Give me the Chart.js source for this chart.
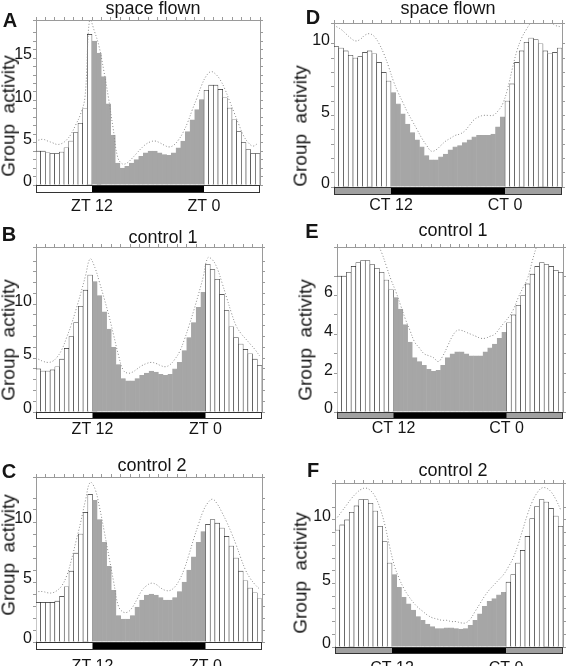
<!DOCTYPE html>
<html>
<head>
<meta charset="utf-8">
<script src="https://cdn.jsdelivr.net/npm/chart.js@4.4.1/dist/chart.umd.min.js"></script>
<style>
  body { margin: 0; background: #fff; }
  #fig { position: relative; width: 579px; height: 666px; overflow: hidden;
         font-family: "Liberation Sans", Arial, sans-serif; color: #151515; }
  #fig canvas { position: absolute; }
  .lbl { position: absolute; white-space: pre; line-height: 1; transform: translate(-50%, -50%); }
  .letter { font-weight: bold; font-size: 20px; }
  .title { font-size: 18px; }
  .ytitle { font-size: 19px; transform: translate(-50%, -50%) rotate(-90deg); }
</style>
</head>
<body>
<div id="fig"></div>
<script>
// profiles run from ZT/CT 6 to 30 in 30 min bins
const binStart = 6;
const binWidth = 0.5;
const darkStart = 12;
const darkEnd = 24;
const xTickHours = [12, 24];
const ldTickLabels = ["ZT 12", "ZT 0"];
const ddTickLabels = ["CT 12", "CT 0"];

// group activity (bars) and mean + sem (dotted), LD panels
const activityA = [4.0, 4.0, 3.8, 3.7, 3.7, 3.9, 4.4, 5.2, 6.2, 7.3, 9.0, 17.8,
  17.0, 15.6, 12.8, 9.6, 5.9, 2.6, 2.0, 2.2, 2.6, 3.0, 3.4, 3.8, 4.0, 4.0, 3.8, 3.6, 3.5, 3.8, 4.4, 5.2, 6.3, 7.7, 8.9, 10.1,
  11.2, 11.8, 11.8, 11.3, 10.3, 9.1, 7.7, 6.3, 5.0, 4.2, 3.7, 3.7];
const upperA = [5.3, 5.4, 5.2, 5.0, 4.8, 4.9, 5.3, 6.0, 7.1, 8.3, 10.4, 19.6,
  18.2, 16.4, 13.6, 10.4, 6.8, 3.3, 2.5, 2.6, 3.1, 3.7, 4.3, 4.8, 5.1, 5.2, 5.0, 4.7, 4.5, 4.7, 5.3, 6.2, 7.4, 8.9, 10.3, 11.8,
  12.9, 13.4, 13.1, 12.4, 11.3, 9.9, 8.5, 7.1, 5.8, 5.0, 4.6, 4.9];

const activityB = [4.0, 3.8, 3.8, 3.9, 4.2, 4.9, 5.9, 7.0, 8.3, 9.8, 11.3, 12.7,
  12.1, 10.8, 9.3, 7.7, 6.0, 4.4, 3.1, 2.9, 2.9, 3.1, 3.4, 3.6, 3.8, 3.7, 3.5, 3.4, 3.5, 4.0, 4.6, 5.7, 6.9, 8.3, 9.7, 11.1,
  13.7, 13.2, 12.3, 10.9, 9.4, 7.9, 6.9, 6.3, 5.8, 5.4, 4.9, 4.3];
const upperB = [4.9, 4.7, 4.6, 4.7, 5.1, 5.8, 6.9, 8.1, 9.5, 11.0, 12.6, 14.2,
  13.4, 12.0, 10.5, 8.9, 7.1, 5.3, 3.9, 3.6, 3.7, 4.0, 4.3, 4.5, 4.6, 4.5, 4.3, 4.2, 4.4, 4.9, 5.6, 6.7, 8.0, 9.4, 10.9, 12.5,
  14.3, 14.1, 13.3, 12.0, 10.6, 9.2, 8.0, 7.3, 6.8, 6.3, 5.8, 5.2];

const activityC = [3.3, 3.3, 3.3, 3.3, 3.4, 3.8, 4.6, 5.9, 7.4, 9.0, 10.8, 12.3,
  11.8, 10.2, 8.3, 6.3, 4.3, 2.2, 1.9, 1.9, 2.2, 2.9, 3.5, 3.9, 4.0, 3.9, 3.7, 3.5, 3.5, 3.7, 4.2, 5.0, 6.0, 7.1, 8.3, 9.2,
  9.8, 10.2, 9.9, 9.5, 8.8, 8.0, 7.0, 5.9, 5.1, 4.5, 4.1, 3.6];
const upperC = [4.2, 4.2, 4.1, 4.1, 4.3, 4.7, 5.5, 6.8, 8.4, 10.0, 11.8, 13.3,
  12.8, 11.2, 9.2, 7.1, 5.0, 3.0, 2.5, 2.5, 2.9, 3.6, 4.3, 4.7, 4.9, 4.8, 4.5, 4.3, 4.3, 4.6, 5.2, 6.1, 7.3, 8.6, 9.8, 10.9,
  11.6, 11.9, 11.5, 10.8, 10.0, 9.1, 8.1, 7.0, 6.0, 5.3, 4.8, 4.4];

// DD panels
const activityD = [9.8, 9.7, 9.5, 9.2, 9.0, 9.1, 9.4, 9.5, 9.3, 8.7, 8.0, 7.4,
  6.6, 5.8, 5.1, 4.4, 3.8, 3.3, 2.8, 2.2, 1.9, 1.9, 2.1, 2.3, 2.6, 2.8, 2.9, 3.1, 3.3, 3.5, 3.6, 3.6, 3.6, 3.7, 4.2, 4.9,
  6.0, 7.2, 8.7, 9.5, 10.1, 10.4, 10.3, 10.0, 9.5, 9.3, 9.4, 9.7];
const upperD = [11.2, 11.0, 10.7, 10.4, 10.2, 10.3, 10.6, 10.7, 10.5, 10.0, 9.3, 8.4,
  7.4, 6.6, 5.9, 5.2, 4.6, 4.0, 3.4, 2.9, 2.5, 2.6, 2.9, 3.2, 3.4, 3.6, 3.7, 3.9, 4.3, 4.7, 4.9, 5.0, 5.0, 5.0, 5.3, 5.8,
  6.8, 8.2, 9.5, 10.4, 11.0, 11.5, 11.8, 11.9, 11.8, 11.6, 11.3, 11.2];

const activityE = [7.0, 7.0, 7.2, 7.5, 7.7, 7.8, 7.8, 7.6, 7.4, 7.2, 6.8, 6.3,
  5.9, 5.3, 4.5, 3.6, 2.8, 2.6, 2.4, 2.2, 2.1, 2.15, 2.4, 2.8, 3.0, 3.1, 3.1, 3.0, 2.9, 2.9, 2.9, 3.1, 3.3, 3.5, 3.8, 4.1,
  4.6, 5.0, 5.5, 6.0, 6.6, 7.1, 7.5, 7.7, 7.6, 7.5, 7.3, 7.2];
const upperE = [9.2, 9.3, 9.5, 9.6, 9.7, 9.6, 9.4, 9.1, 8.7, 8.2, 7.5, 6.8,
  6.2, 5.5, 4.8, 4.2, 3.6, 3.3, 3.0, 2.9, 2.8, 2.6, 2.9, 3.4, 3.9, 4.2, 4.2, 4.1, 4.0, 3.9, 3.8, 3.8, 3.9, 4.0, 4.3, 4.6,
  4.9, 5.3, 5.9, 6.4, 6.9, 7.8, 8.6, 9.2, 9.5, 9.5, 9.4, 9.3];

const activityF = [9.2, 9.6, 10.0, 10.6, 11.1, 11.6, 11.6, 11.3, 10.7, 9.5, 8.3, 6.6,
  5.7, 4.7, 3.9, 3.4, 2.9, 2.4, 2.1, 1.8, 1.6, 1.45, 1.45, 1.5, 1.5, 1.45, 1.4, 1.45, 1.7, 2.1, 2.6, 3.2, 3.6, 3.8, 4.1, 4.3,
  5.1, 5.7, 6.6, 7.6, 8.7, 10.1, 11.05, 11.6, 11.4, 10.9, 10.3, 9.5];
const upperF = [10.2, 10.7, 11.2, 11.7, 12.1, 12.4, 12.5, 12.3, 11.8, 10.9, 9.6, 7.9,
  6.4, 5.4, 4.6, 4.0, 3.5, 3.1, 2.8, 2.5, 2.3, 2.2, 2.1, 2.1, 2.0, 2.0, 1.9, 1.9, 2.2, 2.8, 3.4, 4.0, 4.5, 4.9, 5.3, 5.7,
  6.3, 7.0, 8.0, 9.2, 10.4, 11.4, 12.1, 12.5, 12.5, 12.2, 11.6, 10.8];

// layout of the six panels (frame = chart area l, t, r, b in page px)
const panels = [
  { letter: "A", title: "space flown", bars: activityA, upper: upperA, dd: false, yMax: 19.5, major: 5,
    frame: [36, 20, 260, 185], letterAt: [10, 20], titleAt: [153, 8], yTitleAt: [8, 116], labelPad: 12, ldH: 8 },
  { letter: "B", title: "control 1", bars: activityB, upper: upperB, dd: false, yMax: 15.3, major: 5,
    frame: [36, 247, 262, 412], letterAt: [9, 234], titleAt: [163, 237], yTitleAt: [8, 340], labelPad: 8, ldH: 7 },
  { letter: "C", title: "control 2", bars: activityC, upper: upperC, dd: false, yMax: 13.75, major: 5,
    frame: [36, 477, 262, 642], letterAt: [9, 471], titleAt: [152, 465], yTitleAt: [8, 555], labelPad: 15, ldH: 8 },
  { letter: "D", title: "space flown", bars: activityD, upper: upperD, dd: true, yMax: 11.45, major: 5,
    frame: [334, 23, 562, 187], letterAt: [313, 17], titleAt: [448, 8], yTitleAt: [300, 126], labelPad: 9, ldH: 8 },
  { letter: "E", title: "control 1", bars: activityE, upper: upperE, dd: true, yMax: 8.5, major: 2,
    frame: [337, 247, 563, 412], letterAt: [312, 231], titleAt: [453, 230], yTitleAt: [305, 340], labelPad: 7, ldH: 7 },
  { letter: "F", title: "control 2", bars: activityF, upper: upperF, dd: true, yMax: 12.9, major: 5,
    frame: [335, 483, 563, 647], letterAt: [313, 470], titleAt: [453, 470], yTitleAt: [300, 573], labelPad: 12, ldH: 7 },
];

const yAxisW = 34, sideW = 8, topH = 8, bottomH = 34;
const frameGrey = "#9a9a9a";
const barGrey = "#a6a6a6";
const fig = document.getElementById("fig");

Chart.defaults.font.family = '"Liberation Sans", Arial, sans-serif';
Chart.defaults.color = "#151515";

// light / dark bar under the x axis
const ldBar = {
  id: "ldBar",
  afterDraw(chart, args, opts) {
    const { ctx, chartArea, scales } = chart;
    const x = scales.x;
    const top = chartArea.bottom;
    const h = opts.height;
    const x0 = x.getPixelForValue(binStart);
    const x1 = x.getPixelForValue(binStart + binWidth * 48);
    const d0 = x.getPixelForValue(darkStart);
    const d1 = x.getPixelForValue(darkEnd);
    ctx.save();
    ctx.fillStyle = opts.dd ? "#a0a0a0" : "#fff";
    ctx.fillRect(x0, top, x1 - x0, h);
    ctx.fillStyle = "#000";
    ctx.fillRect(d0, top, d1 - d0, h);
    ctx.strokeStyle = "#333";
    ctx.lineWidth = 1;
    ctx.strokeRect(x0 + 0.5, top + 0.5, x1 - x0 - 1, h - 1);
    ctx.restore();
  },
};

function addText(cls, text, pos) {
  const d = document.createElement("div");
  d.className = "lbl " + cls;
  d.textContent = text;
  d.style.left = pos[0] + "px";
  d.style.top = pos[1] + "px";
  fig.appendChild(d);
}

function fixSize(prop, size) {
  return (s) => {
    s[prop] = size;
    s.paddingTop = 0; s.paddingBottom = 0; s.paddingLeft = 0; s.paddingRight = 0;
  };
}

function buildChart(p) {
  const [l, t, r, b] = p.frame;
  const w = r - l + yAxisW + sideW;
  const h = b - t + topH + bottomH;
  const canvas = document.createElement("canvas");
  canvas.width = w;
  canvas.height = h;
  canvas.style.left = l - yAxisW + "px";
  canvas.style.top = t - topH + "px";
  fig.appendChild(canvas);

  const centers = p.bars.map((v, i) => binStart + binWidth * (i + 0.5));
  const dark = centers.map((c) => c > darkStart && c < darkEnd);
  const xLabels = p.dd ? ddTickLabels : ldTickLabels;
  const yTicks = {
    min: 0, max: p.yMax,
    grid: { drawOnChartArea: false, tickLength: 3, color: frameGrey },
    border: { color: frameGrey },
  };

  new Chart(canvas, {
    data: {
      datasets: [
        {
          type: "line", order: 0,
          data: p.upper.map((v, i) => ({ x: centers[i], y: v })),
          borderColor: "#8a8a8a", borderWidth: 1, borderDash: [1, 2],
          pointRadius: 0, tension: 0.4,
        },
        {
          type: "bar", order: 1,
          data: p.bars.map((v, i) => ({ x: centers[i], y: v })),
          backgroundColor: dark.map((d) => (d ? barGrey : "#fff")),
          borderColor: dark.map((d) => (d ? barGrey : "#2a2a2a")),
          borderWidth: { top: 0.6, left: 0.6, right: 0.6, bottom: 0 },
          barPercentage: 1, categoryPercentage: 1,
        },
      ],
    },
    options: {
      responsive: false, animation: false, devicePixelRatio: 1,
      layout: { padding: 0 },
      plugins: { legend: { display: false }, tooltip: { enabled: false }, ldBar: { dd: p.dd, height: p.ldH } },
      scales: {
        x: {
          type: "linear", position: "bottom", min: binStart, max: darkEnd + 6, offset: false,
          afterBuildTicks: (s) => { s.ticks = xTickHours.map((v) => ({ value: v })); },
          ticks: { callback: (v, i) => xLabels[i], autoSkip: false, maxRotation: 0, padding: p.labelPad, font: { size: 16 } },
          grid: { display: false, drawTicks: false },
          border: { display: false },
          afterFit: fixSize("height", bottomH),
        },
        xTop: {
          type: "linear", position: "top", min: binStart, max: darkEnd + 6, offset: false,
          ticks: { stepSize: 1, autoSkip: false, callback: () => "" },
          grid: { drawOnChartArea: false, tickLength: 3, color: frameGrey },
          border: { color: frameGrey },
          afterFit: fixSize("height", topH),
        },
        y: {
          ...yTicks, position: "left",
          ticks: {
            stepSize: 1, autoSkip: false, padding: 1, labelOffset: -3, font: { size: 16 },
            callback: (v) => (v % p.major === 0 ? v : ""),
          },
          afterFit: fixSize("width", yAxisW),
        },
        yRight: {
          ...yTicks, position: "right",
          ticks: { stepSize: 1, autoSkip: false, callback: () => "" },
          afterFit: fixSize("width", sideW),
        },
      },
    },
    plugins: [ldBar],
  });

  addText("letter", p.letter, p.letterAt);
  addText("title", p.title, p.titleAt);
  addText("ytitle", "Group  activity", p.yTitleAt);
}

panels.forEach(buildChart);
</script>
</body>
</html>
